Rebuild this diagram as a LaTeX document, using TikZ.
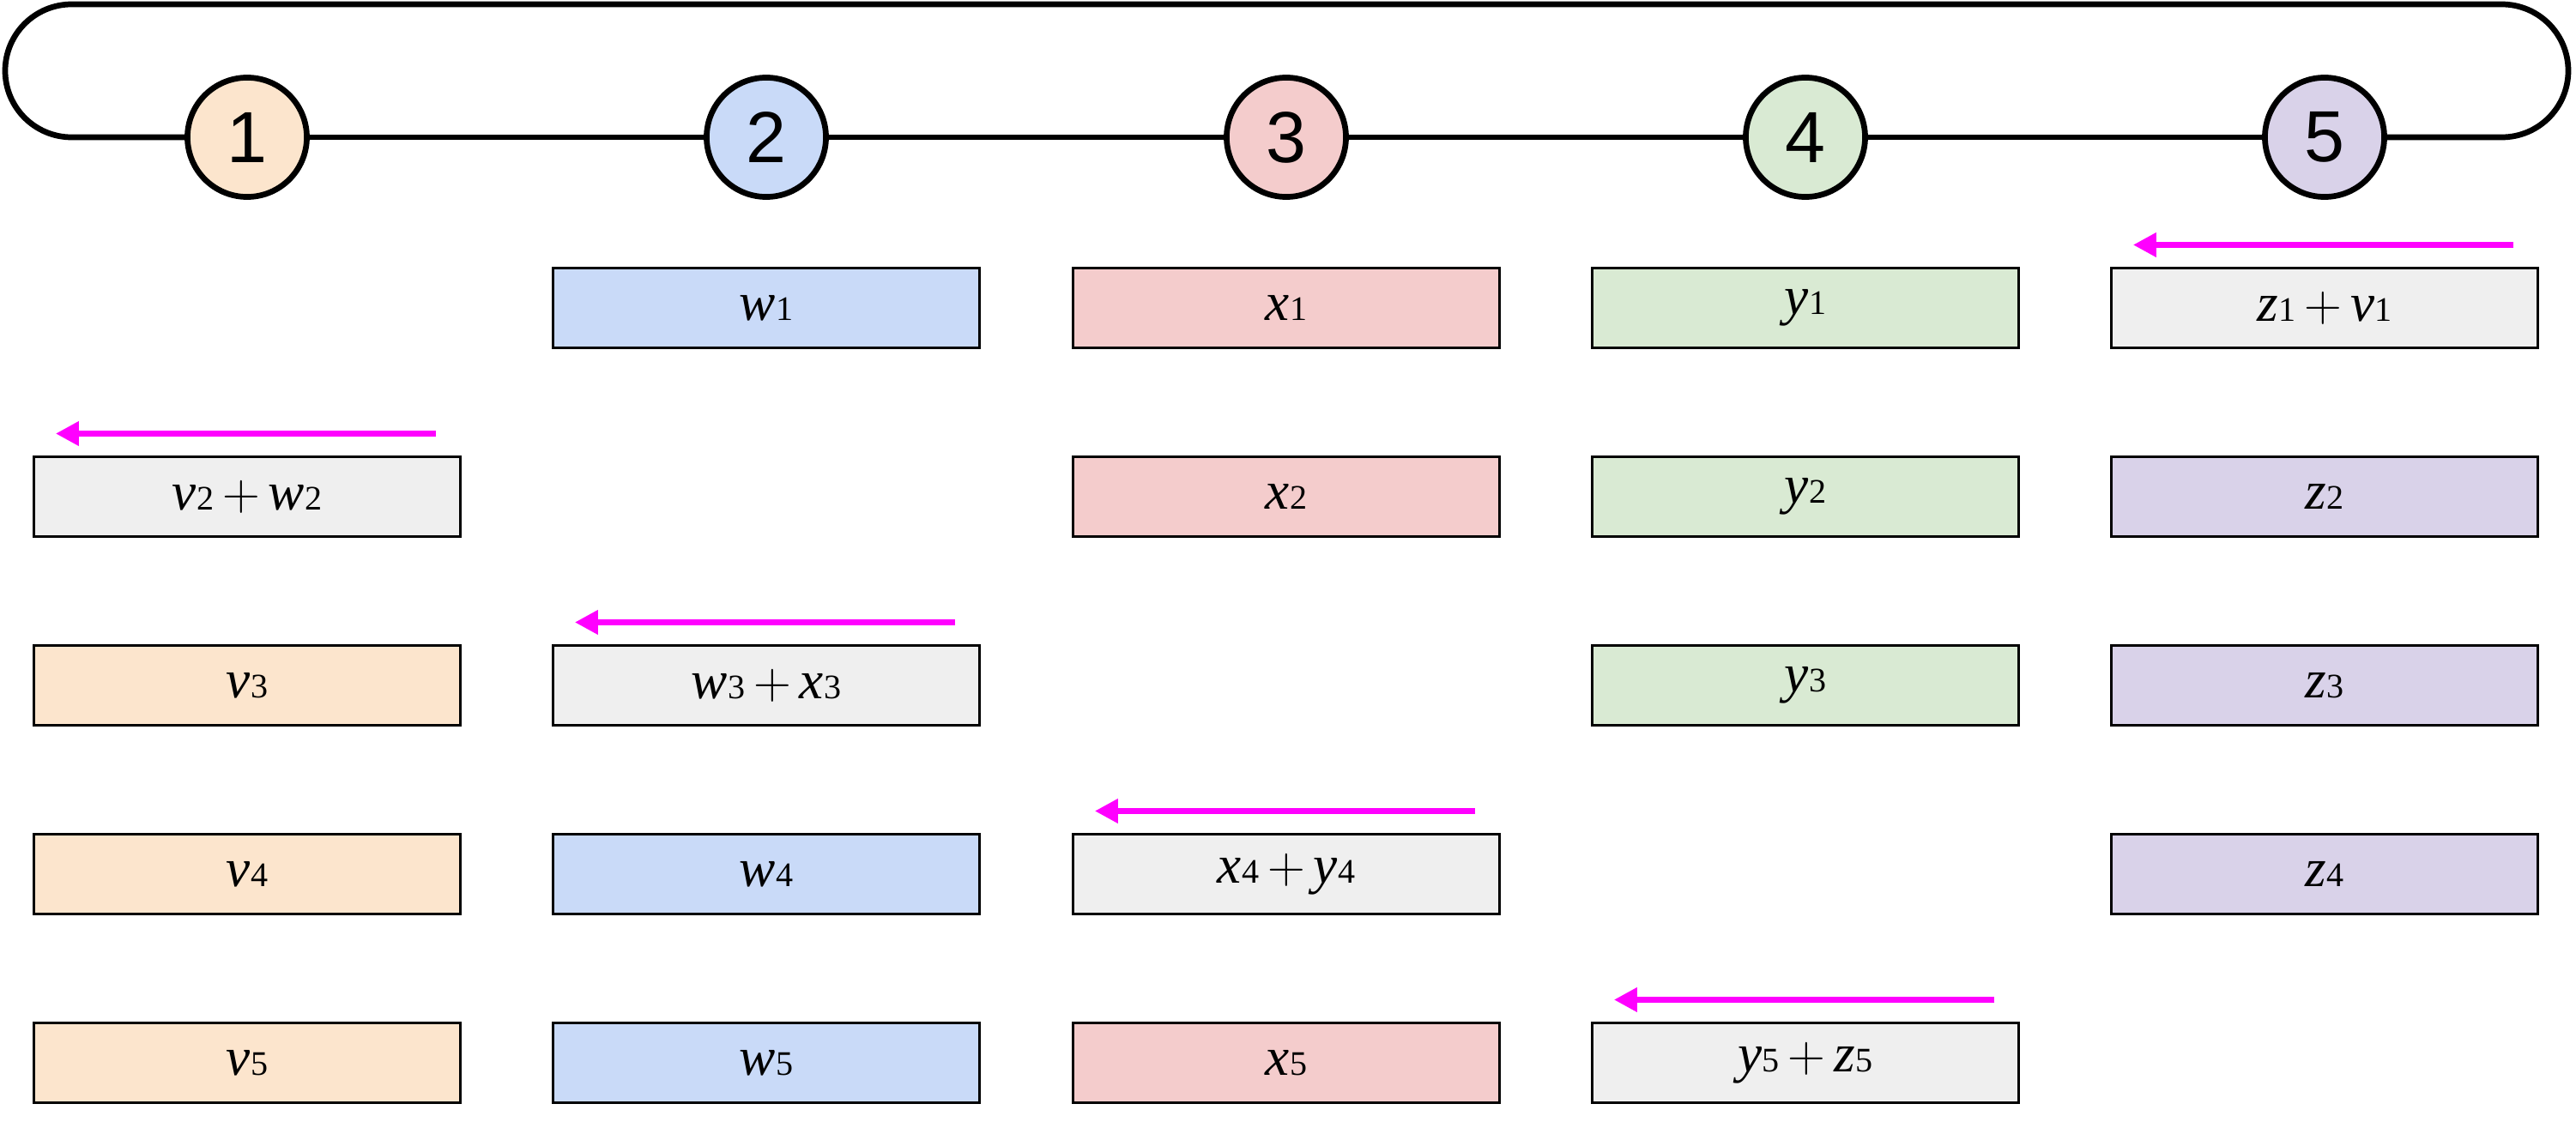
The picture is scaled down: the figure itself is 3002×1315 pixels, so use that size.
\documentclass[tikz,border=0pt]{standalone}
\usepackage{fontspec}
\setmainfont{Liberation Serif}
\setsansfont{Liberation Sans}
\usetikzlibrary{arrows.meta}
\definecolor{vcol}{HTML}{FCE5CD}
\definecolor{wcol}{HTML}{C9DAF8}
\definecolor{xcol}{HTML}{F4CCCC}
\definecolor{ycol}{HTML}{D9EAD3}
\definecolor{zcol}{HTML}{D9D2E9}
\definecolor{sumcol}{HTML}{EFEFEF}
\definecolor{sendcol}{HTML}{FF00FF}
\newcommand{\ent}[2]{\textit{#1}{\fontsize{11.4pt}{12pt}\selectfont #2}}
\newcommand{\plusop}{\hspace{0.1cm}$+$\hspace{0.1cm}}

\begin{document}
\begin{tikzpicture}[x=0.01cm,y=-0.01cm,
  ring/.style={line width=0.067cm},
  proc/.style={circle,draw=black,line width=0.067cm,inner sep=0pt,minimum size=1.39cm,
    font=\sffamily\fontsize{24pt}{26pt}\selectfont},
  chunk/.style={rectangle,draw=black,line width=0.03cm,inner sep=0pt,
    minimum width=4.97cm,minimum height=0.92cm,font=\fontsize{18pt}{20pt}\selectfont},
  send/.style={draw=sendcol,line width=0.07cm,-{Triangle[length=0.27cm,width=0.27cm]}}]
\useasboundingbox (0,0) rectangle (3002,1315);
% ring of workers
\node[proc,fill=vcol] (n1) at (288,160) {1};
\node[proc,fill=wcol] (n2) at (893,160) {2};
\node[proc,fill=xcol] (n3) at (1499,160) {3};
\node[proc,fill=ycol] (n4) at (2104,160) {4};
\node[proc,fill=zcol] (n5) at (2709,160) {5};
\draw[ring] (n1) -- (n2) -- (n3) -- (n4) -- (n5);
\draw[ring,rounded corners=0.775cm] (n5.east) -- (2993,160) -- (2993,5) -- (6,5) -- (6,160) -- (n1.west);
% row 1
\node[chunk,fill=wcol] (w1) at (893,359) {\ent{w}{1}};
\node[chunk,fill=xcol] (x1) at (1499,359) {\ent{x}{1}};
\node[chunk,fill=ycol] (y1) at (2104,359) {\ent{y}{1}};
\node[chunk,fill=sumcol] (z1) at (2709,359) {\ent{z}{1}\plusop\ent{v}{1}};
% row 2
\node[chunk,fill=sumcol] (v2) at (288,579) {\ent{v}{2}\plusop\ent{w}{2}};
\node[chunk,fill=xcol] (x2) at (1499,579) {\ent{x}{2}};
\node[chunk,fill=ycol] (y2) at (2104,579) {\ent{y}{2}};
\node[chunk,fill=zcol] (z2) at (2709,579) {\ent{z}{2}};
% row 3
\node[chunk,fill=vcol] (v3) at (288,799) {\ent{v}{3}};
\node[chunk,fill=sumcol] (w3) at (893,799) {\ent{w}{3}\plusop\ent{x}{3}};
\node[chunk,fill=ycol] (y3) at (2104,799) {\ent{y}{3}};
\node[chunk,fill=zcol] (z3) at (2709,799) {\ent{z}{3}};
% row 4
\node[chunk,fill=vcol] (v4) at (288,1019) {\ent{v}{4}};
\node[chunk,fill=wcol] (w4) at (893,1019) {\ent{w}{4}};
\node[chunk,fill=sumcol] (x4) at (1499,1019) {\ent{x}{4}\plusop\ent{y}{4}};
\node[chunk,fill=zcol] (z4) at (2709,1019) {\ent{z}{4}};
% row 5
\node[chunk,fill=vcol] (v5) at (288,1239) {\ent{v}{5}};
\node[chunk,fill=wcol] (w5) at (893,1239) {\ent{w}{5}};
\node[chunk,fill=xcol] (x5) at (1499,1239) {\ent{x}{5}};
\node[chunk,fill=sumcol] (y5) at (2104,1239) {\ent{y}{5}\plusop\ent{z}{5}};
% sends to the left neighbour
\draw[send] ([shift={(-30,-26)}]z1.north east) -- ([shift={(27,-26)}]z1.north west);
\draw[send] ([shift={(-30,-26)}]v2.north east) -- ([shift={(27,-26)}]v2.north west);
\draw[send] ([shift={(-30,-26)}]w3.north east) -- ([shift={(27,-26)}]w3.north west);
\draw[send] ([shift={(-30,-26)}]x4.north east) -- ([shift={(27,-26)}]x4.north west);
\draw[send] ([shift={(-30,-26)}]y5.north east) -- ([shift={(27,-26)}]y5.north west);
\end{tikzpicture}
\end{document}
